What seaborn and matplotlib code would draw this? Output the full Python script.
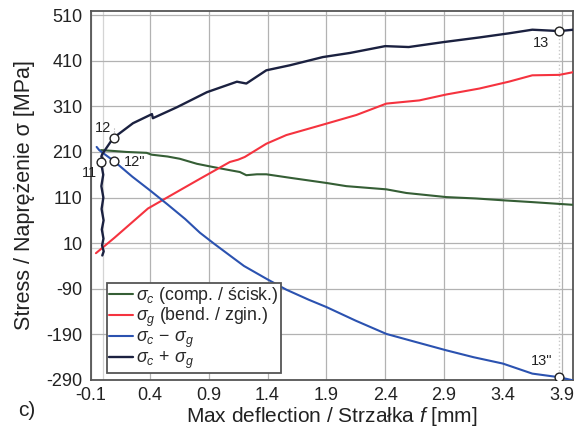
import numpy as np
import pandas as pd
import matplotlib
matplotlib.use("Agg")
import matplotlib.pyplot as plt
import seaborn as sns

# ---------------- data ----------------
green_x = [-0.015, 0.10, 0.20, 0.373, 0.415, 0.55, 0.655, 0.80, 0.936, 1.08, 1.165, 1.22,
           1.31, 1.39, 1.60, 1.90, 2.07, 2.41, 2.58, 2.92, 3.17, 3.40, 3.65, 4.00]
green_y = [214, 212, 210, 208, 204, 200, 195, 184, 177, 170, 166, 159,
           161, 161, 153, 142, 135, 128, 120, 111, 108, 104, 100, 94]

red_x = [-0.058, 0.10, 0.384, 0.655, 0.825, 1.08, 1.15, 1.207, 1.39, 1.56, 1.90, 2.155,
         2.41, 2.69, 2.92, 3.20, 3.45, 3.65, 3.88, 4.00]
red_y = [-12, 22, 86, 126, 151, 188, 193, 199, 228, 247, 272, 291,
         316, 323, 336, 349, 364, 378, 379, 385]

blue_x = [-0.052, -0.03, 0.0, 0.095, 0.25, 0.40, 0.55, 0.70, 0.825, 0.95,
          1.08, 1.20, 1.39, 1.56, 1.75, 1.90, 2.15, 2.41, 2.65, 2.92, 3.15, 3.40,
          3.65, 3.88, 4.00]
blue_y = [221, 214, 208, 190, 156, 126, 95, 63, 33, 8,
          -17, -40, -68, -92, -114, -130, -160, -189, -206, -225, -240, -254,
          -276, -284, -291]

dark_x = [-0.004, 0.008, -0.006, 0.006, -0.008, 0.007, -0.010, 0.005, -0.012, 0.004,
          -0.010, 0.002, -0.012, -0.005, 0.087, 0.257, 0.418, 0.426, 0.63, 0.885, 1.14,
          1.22, 1.39, 1.59, 1.87, 2.10, 2.40, 2.60, 2.90, 3.20, 3.45, 3.65, 3.88, 4.00]
dark_y = [-17, -8, 5, 20, 40, 60, 85, 110, 135, 160,
          180, 195, 200, 205, 240, 273, 293, 284, 308, 341, 364,
          360, 389, 400, 418, 427, 442, 440, 451, 461, 470, 478, 475, 478]

series_labels = [r"$\sigma_c$ (comp. / ścisk.)",
                 r"$\sigma_g$ (bend. / zgin.)",
                 r"$\sigma_c\,-\,\sigma_g$",
                 r"$\sigma_c\,+\,\sigma_g$"]
series_colors = ["#355e35", "#f5333f", "#2b52b0", "#1b2140"]

pt_x = [-0.015, 0.095, 0.095, 3.88, 3.88]
pt_y = [187, 240, 190, 475, -284]
pt_labels = ["11", "12", '12"', "13", '13"']

x_ticks = [-0.1, 0.4, 0.9, 1.4, 1.9, 2.4, 2.9, 3.4, 3.9]
y_ticks = [-290, -190, -90, 10, 110, 210, 310, 410, 510]

# ---------------- style ----------------
sns.set_theme(style="white")
plt.rcParams["font.family"] = ["Liberation Sans", "DejaVu Sans"]
plt.rcParams["mathtext.fontset"] = "custom"
plt.rcParams["mathtext.rm"] = "Liberation Sans"
plt.rcParams["mathtext.it"] = "Liberation Sans:italic"
plt.rcParams["mathtext.bf"] = "Liberation Sans:bold"

fig = plt.figure(figsize=(5.77, 4.30), dpi=100)
ax = fig.add_axes([0.1577, 0.1163, 0.8362, 0.8581])

ax.set_xlim(-0.1, 4.0)
ax.set_ylim(-290, 519)
ax.set_xticks(x_ticks)
ax.set_yticks(y_ticks)
ax.set_xticklabels([f"{v:g}" for v in x_ticks])
ax.set_yticklabels([f"{v:g}" for v in y_ticks])
ax.grid(True, color="#b2b2b2", lw=0.9, zorder=0)
ax.axhline(0, color="#d4d4d4", lw=0.9, zorder=0)
ax.axvline(0, color="#d4d4d4", lw=0.9, zorder=0)
ax.set_axisbelow(True)

datasets = [(green_x, green_y), (red_x, red_y), (blue_x, blue_y), (dark_x, dark_y)]
widths = [1.5, 1.5, 1.5, 1.7]
for (xs, ys), lab, col, w in zip(datasets, series_labels, series_colors, widths):
    df = pd.DataFrame({"x": xs, "y": ys})
    sns.lineplot(data=df, x="x", y="y", ax=ax, color=col, lw=w, sort=False,
                 estimator=None, label=lab, zorder=3)

# dotted guide lines between marker pairs
ax.plot([pt_x[1], pt_x[2]], [pt_y[1] + 8, pt_y[1] + 22], color="#aaaaaa", lw=0.8, ls=":", zorder=2)
ax.plot([pt_x[3], pt_x[4]], [pt_y[3], pt_y[4]], color="#c8c8c8", lw=1.0, ls=":", zorder=2)

sns.scatterplot(x=pt_x, y=pt_y, ax=ax, s=40, color="white", edgecolor="#222222",
                linewidth=1.0, zorder=5, legend=False)

offsets = [(-4, -4, "right", "top"), (-3, 3, "right", "bottom"), (10, -1, "left", "center"),
           (-18, -12, "center", "center"), (-18, 16, "center", "center")]
for x0, y0, t, (dx, dy, ha, va) in zip(pt_x, pt_y, pt_labels, offsets):
    ax.annotate(t, (x0, y0), xytext=(dx, dy), textcoords="offset pixels", ha=ha, va=va,
                fontsize=10.5, color="#222222", zorder=6)

ax.tick_params(axis="both", length=0, labelsize=13, colors="#222222")
ax.tick_params(axis="x", pad=5)
ax.tick_params(axis="y", pad=6)
for s in ax.spines.values():
    s.set_color("#555555")
    s.set_linewidth(1.3)

ax.set_xlabel("Max deflection / Strzałka $f$ [mm]", fontsize=15, color="#222222", labelpad=1)
ax.set_ylabel("Stress / Naprężenie σ [MPa]", fontsize=15.5, color="#222222", labelpad=8)

leg = ax.legend(loc="lower left", bbox_to_anchor=(0.033, 0.019), borderaxespad=0,
                fontsize=12.8, frameon=True, fancybox=False, handlelength=1.35,
                handletextpad=0.2, labelspacing=0.0, borderpad=0.1)
leg.get_frame().set_edgecolor("#555555")
leg.get_frame().set_linewidth(1.3)
leg.get_frame().set_alpha(1)

fig.text(18 / 577, 1 - 411 / 430, "c)", fontsize=15, color="#222222", ha="left", va="center")

fig.savefig("out.png", dpi=100)
